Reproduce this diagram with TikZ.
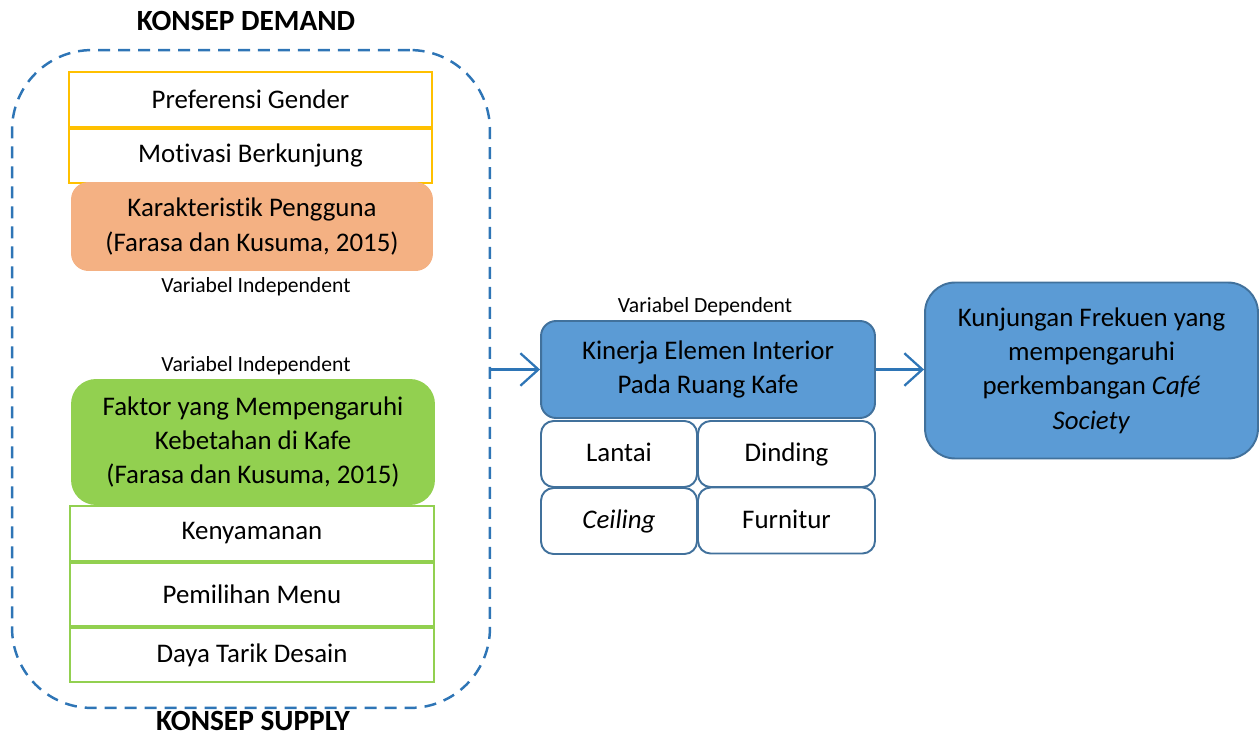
\documentclass[tikz,border=0pt]{standalone}
\usepackage{fontspec}
\setmainfont{Carlito}[Ligatures={NoCommon}]
\usetikzlibrary{arrows.meta,positioning}

\definecolor{dashblue}{HTML}{2E75B6}
\definecolor{boxblue}{HTML}{5B9BD5}
\definecolor{edgeblue}{HTML}{41719C}
\definecolor{boxorange}{HTML}{F4B183}
\definecolor{boxgreen}{HTML}{92D050}
\definecolor{boxyellow}{HTML}{FFC000}

\tikzset{
  every node/.style={font=\fontsize{15.3pt}{19.5pt}\selectfont, inner sep=0pt, align=center},
  itemyellow/.style={draw=boxyellow, line width=1.1pt, fill=white, minimum width=7.26cm},
  itemgreen/.style={draw=boxgreen, line width=1.1pt, fill=white, minimum width=7.28cm},
  mainbox/.style={rounded corners=0.35cm, minimum width=7.26cm},
  bluebox/.style={draw=edgeblue, line width=1.1pt, fill=boxblue, rounded corners=0.3cm},
  elembox/.style={draw=edgeblue, line width=1.1pt, fill=white, rounded corners=0.25cm, minimum height=1.32cm,
                  text height=2.4ex, text depth=0.5ex},
  varlabel/.style={font=\fontsize{12.3pt}{14pt}\selectfont},
  conceptlabel/.style={font=\fontsize{16.7pt}{20pt}\selectfont\bfseries},
  arr/.style={-{Straight Barb[length=3.6mm, width=6.5mm]}, draw=dashblue, line width=1.3pt}
}

\begin{document}
\begin{tikzpicture}[x=0.02cm, y=-0.02cm]
  \useasboundingbox (0,0) rectangle (1260,736);
  %--------------- Konsep (dashed frame) ---------------
  \node[draw=dashblue, line width=1.4pt, dash pattern=on 0.24cm off 0.16cm,
        rounded corners=1.6cm, minimum width=9.56cm, minimum height=13.16cm] (konsep) at (251,379) {};
  \node[conceptlabel] (demand) at (246,21) {KONSEP DEMAND};
  \node[conceptlabel] (supply) at (253,721) {KONSEP SUPPLY};

  %--------------- Demand ---------------
  \node[itemyellow, minimum height=1.1cm] (gender) at (250.5,99.5) {Preferensi Gender};
  \node[itemyellow, minimum height=1.08cm, below=0pt of gender] (motivasi) {Motivasi Berkunjung};
  \node[mainbox, fill=boxorange, minimum width=7.24cm, minimum height=1.78cm] (pengguna) at (252,226.5)
    {Karakteristik Pengguna\\(Farasa dan Kusuma, 2015)};
  \node[varlabel] (indep1) at (256,287) {Variabel Independent};

  %--------------- Supply ---------------
  \node[varlabel] (indep2) at (256,366) {Variabel Independent};
  \node[mainbox, fill=boxgreen, rounded corners=0.5cm, minimum width=7.28cm, minimum height=2.52cm] (faktor) at (253,442)
    {Faktor yang Mempengaruhi\\Kebetahan di Kafe\\(Farasa dan Kusuma, 2015)};
  \node[itemgreen, minimum height=1.1cm] (nyaman) at (252,533.5) {Kenyamanan};
  \node[itemgreen, minimum height=1.26cm, below=0pt of nyaman] (menu) {Pemilihan Menu};
  \node[itemgreen, minimum height=1.08cm, below=0pt of menu] (desain) {Daya Tarik Desain};

  %--------------- Dependent ---------------
  \node[varlabel] (dep) at (705,307) {Variabel Dependent};
  \node[bluebox, minimum width=6.68cm, minimum height=1.94cm] (kinerja) at (708,369.5)
    {Kinerja Elemen Interior\\Pada Ruang Kafe};
  \node[elembox, minimum width=3.12cm] (lantai) at (619,454) {Lantai};
  \node[elembox, minimum width=3.54cm] (dinding) at (786.5,454) {Dinding};
  \node[elembox, minimum width=3.12cm] (ceiling) at (619,521) {\textit{Ceiling}};
  \node[elembox, minimum width=3.54cm] (furnitur) at (786.5,520.5) {Furnitur};

  %--------------- Output ---------------
  \node[bluebox, rounded corners=0.6cm, minimum width=6.66cm, minimum height=3.52cm] (kunjungan) at (1091.5,370.5)
    {Kunjungan Frekuen yang\\mempengaruhi\\perkembangan \textit{Café}\\\textit{Society}};

  %--------------- arrows ---------------
  \draw[arr] (konsep.east |- kinerja.west) -- (kinerja.west);
  \draw[arr] (kinerja.east) -- (kinerja.east -| kunjungan.west);
\end{tikzpicture}
\end{document}
